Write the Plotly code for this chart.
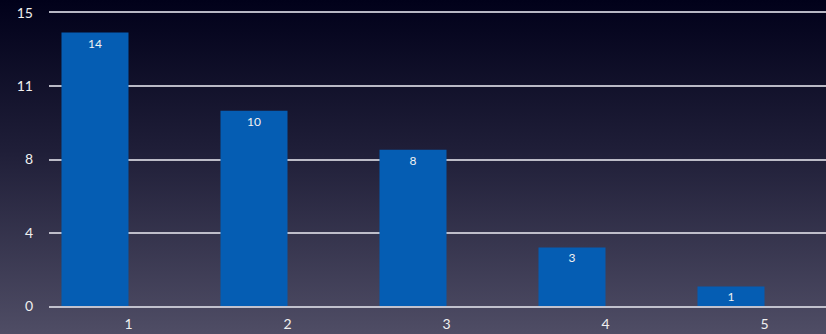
import base64
import plotly.graph_objects as go

# Chart data
categories = [1, 2, 3, 4, 5]
counts = [14, 10, 8, 3, 1]
empty_series = [None, None, None, None, None]
y_tick_values = [0, 3.75, 7.5, 11.25, 15]
y_tick_labels = ["0", "4", "8", "11", "15"]

W, H = 826, 334
ML, MR, MT, MB = 49, 0, 13, 28
PW, PH = W - ML - MR, H - MT - MB

FONT = "Lato, 'Open Sans', sans-serif"
GRID = "rgba(215,215,225,0.85)"

# Vertical background gradient as an SVG image
svg = (
    '<svg xmlns="http://www.w3.org/2000/svg" width="100" height="100" preserveAspectRatio="none">'
    '<defs><linearGradient id="g" x1="0" y1="0" x2="0" y2="1">'
    '<stop offset="0" stop-color="#01011a"/>'
    '<stop offset="0.45" stop-color="#1f1e38"/>'
    '<stop offset="1" stop-color="#4f4d65"/>'
    '</linearGradient></defs>'
    '<rect width="100" height="100" fill="url(#g)"/></svg>'
)
bg_uri = "data:image/svg+xml;base64," + base64.b64encode(svg.encode()).decode()

fig = go.Figure()
fig.add_trace(go.Bar(
    x=categories, y=counts,
    marker=dict(color="#055db3", line=dict(width=0)),
    text=counts, texttemplate="%{text}",
    textposition="inside", insidetextanchor="end", textangle=0,
    constraintext="none",
    textfont=dict(family=FONT, size=12, color="#f2f2f2"),
))
fig.add_trace(go.Bar(x=categories, y=empty_series, marker=dict(color="#055db3")))

fig.update_layout(
    width=W, height=H,
    margin=dict(l=ML, r=MR, t=MT, b=MB, autoexpand=False),
    paper_bgcolor="#25243d",
    plot_bgcolor="rgba(0,0,0,0)",
    barmode="group", bargap=0.157, bargroupgap=0,
    showlegend=False,
    images=[dict(
        source=bg_uri, xref="paper", yref="paper",
        x=-ML / PW, y=1 + MT / PH, sizex=W / PW, sizey=H / PH,
        xanchor="left", yanchor="top", sizing="stretch", layer="below",
    )],
    xaxis=dict(
        range=[0.5, 0.5 + PW / 159.0],
        tickvals=categories, ticktext=[str(c) for c in categories],
        showgrid=False, zeroline=False, ticks="",
        showline=True, mirror=True, linecolor=GRID, linewidth=1.5,
        tickfont=dict(family=FONT, size=14, color="#f0f0f0"),
        ticklabelstandoff=4,
    ),
    yaxis=dict(
        range=[0, 15],
        tickvals=y_tick_values, ticktext=y_tick_labels,
        showgrid=True, gridcolor=GRID, gridwidth=1.5,
        zeroline=False, showline=False, ticks="",
        tickfont=dict(family=FONT, size=14, color="#f0f0f0"),
        ticklabelstandoff=15,
    ),
)

fig.write_html("out.html")
